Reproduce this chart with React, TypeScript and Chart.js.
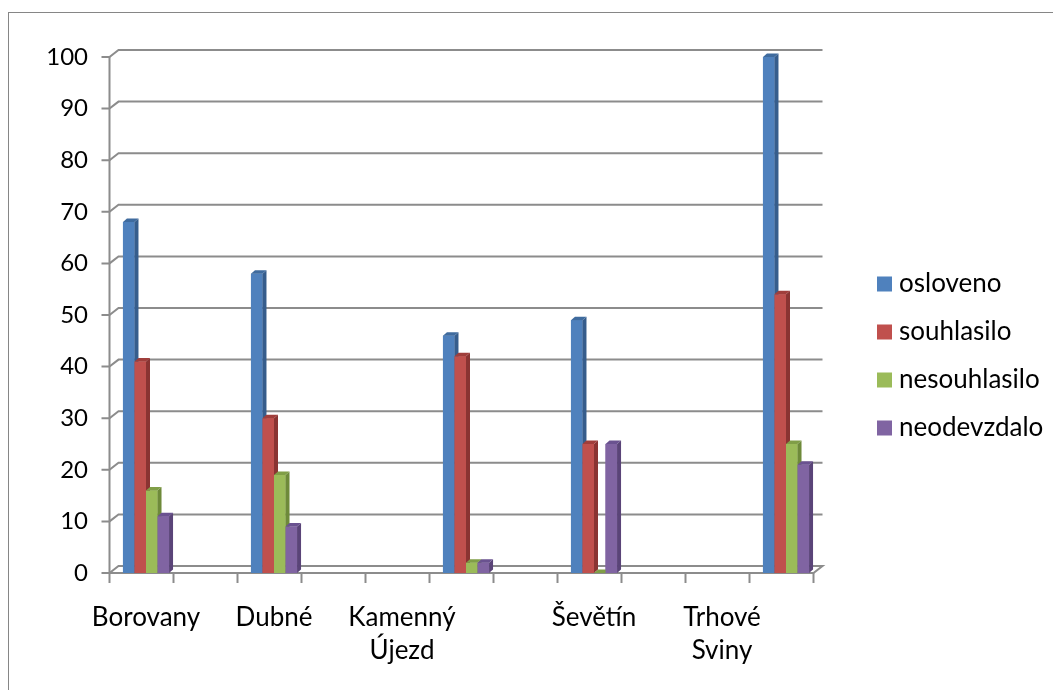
import React, { useEffect, useRef } from "react";
import { Chart, registerables } from "chart.js";

Chart.register(...registerables);

const categories: (string | string[])[] = [
  "Borovany", "", "Dubné", "", ["Kamenný", "Újezd"], "", "", "Ševětín", "", ["Trhové", "Sviny"], "",
];
const osloveno = [68, null, 58, null, null, 46, null, 49, null, null, 100];
const souhlasilo = [41, null, 30, null, null, 42, null, 25, null, null, 54];
const nesouhlasilo = [16, null, 19, null, null, 2, null, 0, null, null, 25];
const neodevzdalo = [11, null, 9, null, null, 2, null, 25, null, null, 21];
const seriesNames = ["osloveno", "souhlasilo", "nesouhlasilo", "neodevzdalo"];
const yMin = 0;
const yMax = 100;
const yStep = 10;

const frontColors = ["#4F81BD", "#C0504D", "#9BBB59", "#8064A2"];
const sideColors = ["#365D8C", "#8A3432", "#6E8A3A", "#5A4478"];
const topColors = ["#3F6B9E", "#A03E3B", "#809E47", "#6A5290"];

const FAMILY = "Lato, 'Open Sans', sans-serif";
const Y_FONT = { family: FAMILY, size: 24 };
const X_FONT = { family: FAMILY, size: 26, lineHeight: 1.27 };
const LEGEND_SIZE = 26;
const DX = 9, DY = -7; // wall depth
const BDX = 4, BDY = -3.5; // bar depth

const excel3d = {
  id: "excel3d",
  beforeDraw(chart: any) {
    const ctx = chart.ctx;
    ctx.save();
    ctx.fillStyle = "#ffffff";
    ctx.fillRect(0, 0, chart.width, chart.height);
    ctx.strokeStyle = "#868686";
    ctx.lineWidth = 1;
    ctx.strokeRect(8.5, 12.5, 3000, 3000);

    const { left, right, top, bottom } = chart.chartArea;
    const fx = left - 4.5;
    const fr = right - 4.5;
    const ys = chart.scales.y;
    ctx.strokeStyle = "#8c8c8c";
    ctx.lineWidth = 2;
    ctx.lineJoin = "miter";
    ys.ticks.forEach((t: any) => {
      const py = ys.getPixelForValue(t.value);
      ctx.beginPath();
      ctx.moveTo(fx - 8, py);
      ctx.lineTo(fx, py);
      ctx.lineTo(fx + DX, py + DY);
      ctx.lineTo(fr + DX, py + DY);
      if (t.value === yMin) {
        ctx.lineTo(fr, py);
        ctx.lineTo(fx, py);
      }
      ctx.stroke();
    });
    ctx.beginPath();
    ctx.moveTo(fx, top);
    ctx.lineTo(fx, bottom);
    ctx.stroke();
    const n = chart.data.labels.length;
    const w = (right - left) / n;
    for (let i = 0; i <= n; i++) {
      const px = fx + i * w;
      ctx.beginPath();
      ctx.moveTo(px, bottom);
      ctx.lineTo(px, bottom + 10);
      ctx.stroke();
    }
    ctx.restore();
  },
  afterDatasetsDraw(chart: any) {
    const ctx = chart.ctx;
    ctx.save();
    chart.data.datasets.forEach((ds: any, d: number) => {
      const meta = chart.getDatasetMeta(d);
      meta.data.forEach((bar: any, i: number) => {
        if (ds.data[i] === null || ds.data[i] === undefined) return;
        const { x, y, base, width } = bar.getProps(["x", "y", "base", "width"], true);
        const l = x - width / 2;
        const r = x + width / 2;
        ctx.fillStyle = frontColors[d];
        ctx.fillRect(l, y, r - l, base - y);
        ctx.fillStyle = sideColors[d];
        ctx.beginPath();
        ctx.moveTo(r, y);
        ctx.lineTo(r + BDX, y + BDY);
        ctx.lineTo(r + BDX, base + BDY);
        ctx.lineTo(r, base);
        ctx.closePath();
        ctx.fill();
        ctx.fillStyle = topColors[d];
        ctx.beginPath();
        ctx.moveTo(l, y);
        ctx.lineTo(l + BDX, y + BDY);
        ctx.lineTo(r + BDX, y + BDY);
        ctx.lineTo(r, y);
        ctx.closePath();
        ctx.fill();
      });
    });
    ctx.restore();
  },
  afterDraw(chart: any) {
    const ctx = chart.ctx;
    ctx.save();
    ctx.font = `${LEGEND_SIZE}px ${FAMILY}`;
    ctx.textBaseline = "middle";
    ctx.textAlign = "left";
    chart.data.datasets.forEach((ds: any, d: number) => {
      const cy = 284 + d * 48;
      ctx.fillStyle = frontColors[d];
      ctx.fillRect(877, cy - 7.5, 15, 15);
      ctx.fillStyle = "#000";
      ctx.fillText(ds.label, 899, cy);
    });
    ctx.restore();
  },
};

export default function App() {
  const ref = useRef<HTMLCanvasElement | null>(null);
  useEffect(() => {
    if (!ref.current) return;
    const allSeries = [osloveno, souhlasilo, nesouhlasilo, neodevzdalo];
    const chart = new Chart(ref.current, {
      type: "bar",
      data: {
        labels: categories,
        datasets: allSeries.map((s, i) => ({
          label: seriesNames[i],
          data: s,
          backgroundColor: frontColors[i],
          categoryPercentage: 0.72,
          barPercentage: 1,
        })),
      },
      options: {
        responsive: false,
        animation: false,
        layout: { padding: { top: 57, right: 235, bottom: 0, left: 0 } },
        plugins: { legend: { display: false }, tooltip: { enabled: false } },
        scales: {
          x: {
            grid: { display: false, drawTicks: false },
            border: { display: false },
            ticks: {
              font: X_FONT,
              color: "#000",
              padding: 28,
              autoSkip: false,
              maxRotation: 0,
              minRotation: 0,
            },
            afterFit: (s: any) => {
              s.height = 117;
              s.paddingLeft = 0;
              s.paddingRight = 0;
              s.paddingTop = 0;
              s.paddingBottom = 0;
            },
          },
          y: {
            min: yMin,
            max: yMax,
            ticks: { stepSize: yStep, font: Y_FONT, color: "#000", padding: 26 },
            grid: { display: false, drawTicks: false },
            border: { display: false },
            afterFit: (s: any) => {
              s.width = 114;
              s.paddingLeft = 0;
              s.paddingRight = 0;
              s.paddingTop = 0;
              s.paddingBottom = 0;
            },
          },
        },
      },
      plugins: [excel3d],
    } as any);
    return () => chart.destroy();
  }, []);
  return (
    <div style={{ position: "absolute", left: 0, top: 0, width: 1053, height: 690, background: "#fff" }}>
      <canvas ref={ref} width={1053} height={690} style={{ display: "block" }} />
    </div>
  );
}
